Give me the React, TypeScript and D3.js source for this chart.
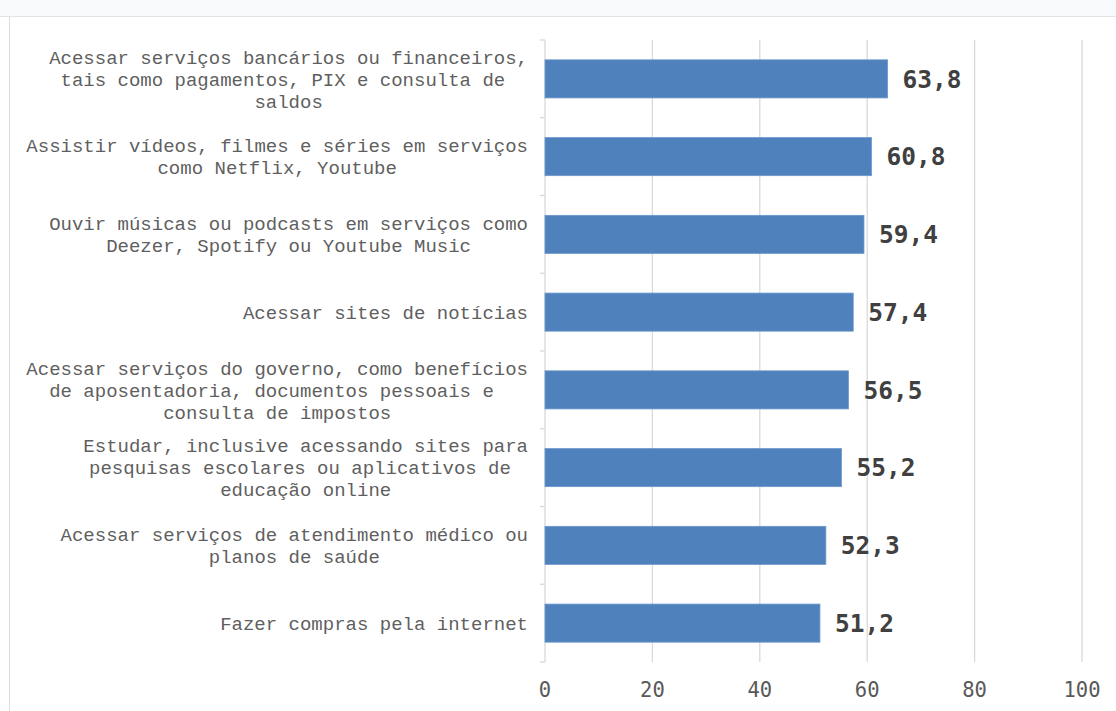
import React from "react";
import * as d3 from "d3";

const categories: string[][] = [
  ["Acessar serviços bancários ou financeiros,", "tais como pagamentos, PIX e consulta de ", "saldos"],
  ["Assistir vídeos, filmes e séries em serviços", "como Netflix, Youtube"],
  ["Ouvir músicas ou podcasts em serviços como", "Deezer, Spotify ou Youtube Music"],
  ["Acessar sites de notícias"],
  ["Acessar serviços do governo, como benefícios", "de aposentadoria, documentos pessoais e ", "consulta de impostos"],
  ["Estudar, inclusive acessando sites para", "pesquisas escolares ou aplicativos de ", "educação online"],
  ["Acessar serviços de atendimento médico ou", "planos de saúde"],
  ["Fazer compras pela internet"],
];
const values: number[] = [63.8, 60.8, 59.4, 57.4, 56.5, 55.2, 52.3, 51.2];
const xTicks: number[] = [0, 20, 40, 60, 80, 100];

const W = 1116;
const H = 711;
const left = 545;
const right = 1082;
const top = 40;
const bottom = 662;
const labelRight = 528;
const charW = 11.4;
const lineH = 22;

export default function App() {
  const x = d3.scaleLinear().domain([0, 100]).range([left, right]);
  const ids = categories.map((_, i) => String(i));
  const y = d3.scaleBand<string>().domain(ids).range([top, bottom]).paddingInner(0.51).paddingOuter(0.255);
  const band = d3.scaleBand<string>().domain(ids).range([top, bottom]);
  const fmt = (v: number) => v.toFixed(1).replace(".", ",");

  return (
    <svg width={W} height={H} style={{ position: "absolute", left: 0, top: 0, background: "#fff" }}>
      <rect x={0} y={0} width={W} height={16} fill="#f8f9fb" />
      <line x1={0} x2={W} y1={16.5} y2={16.5} stroke="#e3e3e3" strokeWidth={1} />
      <line x1={9.5} x2={9.5} y1={17} y2={H} stroke="#dcdcdc" strokeWidth={1} />
      {xTicks.map((t) => (
        <line key={"g" + t} x1={x(t)} x2={x(t)} y1={top} y2={bottom} stroke="#d9d9d9" strokeWidth={1.3} />
      ))}
      {ids.map((id, i) => (
        <line key={"t" + i} x1={left - 5} x2={left} y1={band(id)!} y2={band(id)!} stroke="#d9d9d9" strokeWidth={1.3} />
      ))}
      <line x1={left - 5} x2={left} y1={bottom} y2={bottom} stroke="#d9d9d9" strokeWidth={1.3} />
      {values.map((v, i) => (
        <rect key={"b" + i} x={x(0)} y={y(ids[i])!} width={x(v) - x(0)} height={y.bandwidth()} fill="#4f81bd" stroke="#6d98cc" strokeWidth={0.8} />
      ))}
      {values.map((v, i) => (
        <text key={"l" + i} x={x(v) + 15} y={y(ids[i])! + y.bandwidth() / 2} dy="0.36em" fontFamily="DejaVu Sans Mono" fontWeight="bold" fontSize={24.5} fill="#404040">
          {fmt(v)}
        </text>
      ))}
      {categories.map((lines, i) => {
        const maxLen = d3.max(lines, (l) => l.length)!;
        const cx = labelRight - (maxLen * charW) / 2;
        const cy = band(ids[i])! + band.bandwidth() / 2;
        const y0 = cy - ((lines.length - 1) * lineH) / 2;
        return (
          <text key={"c" + i} fontFamily="Liberation Mono, Courier New, monospace" fontSize={19} fill="#5f5f5f" textAnchor="middle" style={{ whiteSpace: "pre" }}>
            {lines.map((l, j) => (
              <tspan key={j} x={cx} y={y0 + j * lineH} dy="0.35em">
                {l}
              </tspan>
            ))}
          </text>
        );
      })}
      {xTicks.map((t) => (
        <text key={"x" + t} x={x(t)} y={690} dy="0.35em" textAnchor="middle" fontFamily="DejaVu Sans Mono" fontSize={20.5} fill="#595959">
          {t}
        </text>
      ))}
    </svg>
  );
}
